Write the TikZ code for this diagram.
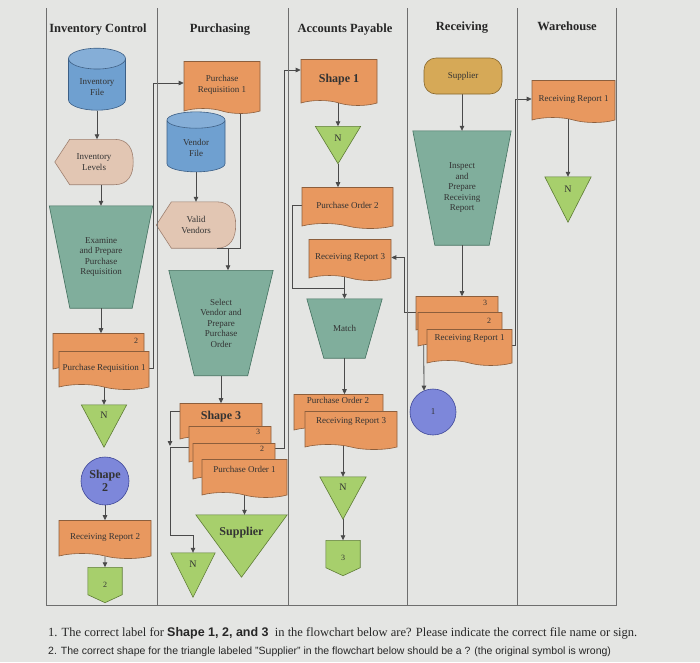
\documentclass[tikz,border=0pt]{standalone}
\usepackage{fontspec}
\setmainfont{Liberation Serif}
\setsansfont{Liberation Sans}
\usepackage{tikz}
\usetikzlibrary{positioning, arrows.meta, shapes.geometric, shapes.symbols, calc, backgrounds}

\definecolor{pagebg}{HTML}{E4E5E3}
\definecolor{lanegray}{HTML}{6E6E6E}
\definecolor{wiregray}{HTML}{4A4A4A}
\definecolor{docfill}{HTML}{E8985F}
\definecolor{docline}{HTML}{8C5E3C}
\definecolor{procfill}{HTML}{80AE9C}
\definecolor{procline}{HTML}{43705F}
\definecolor{trifill}{HTML}{A7CF6C}
\definecolor{triline}{HTML}{5E7C36}
\definecolor{filefill}{HTML}{6FA0D0}
\definecolor{fileline}{HTML}{3C5F86}
\definecolor{dispfill}{HTML}{E2C6B3}
\definecolor{displine}{HTML}{9E8070}
\definecolor{termfill}{HTML}{D6A957}
\definecolor{termline}{HTML}{86662C}
\definecolor{connfill}{HTML}{7D87DA}
\definecolor{connline}{HTML}{3F4898}

\begin{document}
\begin{tikzpicture}[
  x=1pt, y=1pt,
  font=\fontsize{9}{10.5}\selectfont,
  every node/.style={text=black!80},
  lane/.style={draw=lanegray, line width=0.8pt},
  head/.style={font=\fontsize{12.5}{15}\selectfont\bfseries, text=black!85},
  bigtxt/.style={font=\fontsize{12}{13}\selectfont\bfseries},
  numlbl/.style={font=\fontsize{8}{9}\selectfont, inner sep=0pt},
  doc/.style={tape, tape bend top=none, tape bend bottom=out and in,
              tape bend height=5pt, draw=docline, fill=docfill, line width=0.6pt,
              minimum width=#1, minimum height=38, inner sep=1pt, align=center},
  doc/.default=83,
  frontdoc/.style={text depth=14pt},
  filedb/.style={cylinder, shape border rotate=90, aspect=0.5, draw=fileline,
               cylinder uses custom fill, cylinder body fill=filefill,
               cylinder end fill=filefill!85!white, line width=0.6pt,
               minimum width=57, minimum height=62, align=center},
  proc/.style={rectangle, align=center,
    append after command={\pgfextra{\begin{pgfonlayer}{background}
      \filldraw[draw=procline, fill=procfill, line width=0.6pt]
        (\tikzlastnode.north west) -- (\tikzlastnode.north east)
        -- ($(\tikzlastnode.south east)+(-#1,0)$)
        -- ($(\tikzlastnode.south west)+(#1,0)$) -- cycle;
      \end{pgfonlayer}}}},
  term/.style={rectangle, rounded corners=12pt, draw=termline, fill=termfill,
               line width=0.6pt, minimum width=78, minimum height=36},
  conn/.style={circle, draw=connline, fill=connfill, line width=0.6pt, inner sep=0pt},
  disp/.style={rectangle, minimum width=79, minimum height=46, align=center,
    append after command={\pgfextra{\begin{pgfonlayer}{background}
      \filldraw[draw=displine, fill=dispfill, line width=0.6pt]
        (\tikzlastnode.west)
        -- ($(\tikzlastnode.north west)!0.19!(\tikzlastnode.north east)$)
        -- ($(\tikzlastnode.north west)!0.76!(\tikzlastnode.north east)$)
        .. controls ($(\tikzlastnode.north east)+(-5,0)$)
                and ($(\tikzlastnode.east)+(0,13)$) .. (\tikzlastnode.east)
        .. controls ($(\tikzlastnode.east)+(0,-13)$)
                and ($(\tikzlastnode.south east)+(-5,0)$)
        .. ($(\tikzlastnode.south west)!0.76!(\tikzlastnode.south east)$)
        -- ($(\tikzlastnode.south west)!0.19!(\tikzlastnode.south east)$)
        -- cycle;
      \end{pgfonlayer}}}},
  tri/.style={rectangle, inner sep=0pt, text height=7pt, text depth=#1,
    font=\fontsize{10}{11}\selectfont,
    append after command={\pgfextra{\begin{pgfonlayer}{background}
      \filldraw[draw=triline, fill=trifill, line width=0.6pt]
        (\tikzlastnode.north west) -- (\tikzlastnode.north east)
        -- (\tikzlastnode.south) -- cycle;
      \end{pgfonlayer}}}},
  tri/.default=22pt,
  offp/.style={rectangle, inner sep=0pt, minimum width=34, minimum height=35,
    font=\fontsize{8}{9}\selectfont,
    append after command={\pgfextra{\begin{pgfonlayer}{background}
      \filldraw[draw=triline, fill=trifill, line width=0.6pt]
        (\tikzlastnode.north west) -- (\tikzlastnode.north east)
        -- ($(\tikzlastnode.south east)+(0,8)$) -- (\tikzlastnode.south)
        -- ($(\tikzlastnode.south west)+(0,8)$) -- cycle;
      \end{pgfonlayer}}}},
  wire/.style={draw=wiregray, line width=0.8pt},
  arr/.style={wire, -{Triangle[length=5pt, width=4.5pt]}}
]
\begin{scope}[on background layer]
  \fill[pagebg] (0,0) rectangle (700,-662);
\end{scope}
\useasboundingbox (0,0) rectangle (700,-662);

% swim lanes
\draw[lane] (46,-8) -- (46,-605) -- (616,-605) -- (616,-8);
\foreach \lx in {157, 288, 407, 517}
  \draw[lane] (\lx,-8) -- (\lx,-605);

\node[head] (hic)  at (98,-30)  {Inventory Control};
\node[head] (hpur) at (220,-30) {Purchasing};
\node[head] (hap)  at (345,-30) {Accounts Payable};
\node[head] (hrec) at (462,-28) {Receiving};
\node[head] (hwh)  at (567,-26) {Warehouse};

% inventory control
\node[filedb] (invfile) at (97,-87) {Inventory\\File};
\node[disp, minimum width=78, minimum height=45] (invlev) at (94,-162) {Inventory\\Levels};
\node[proc=20.5, minimum width=103, minimum height=102] (exam) at (101,-257)
  {Examine\\and Prepare\\Purchase\\Requisition};
\node[doc=91] (prtwo) at (98.5,-350) {};
\node[numlbl] (prtwo-n) at (136,-341) {2};
\node[doc=90] (prone) at (104,-368) {Purchase Requisition 1};
\node[tri, minimum width=45, minimum height=42] (icn) at (104,-426) {N};
\node[conn, minimum size=48, bigtxt, align=center] (shptwo) at (105,-481) {Shape\\2};
\node[doc=92] (rrtwo) at (105,-537) {Receiving Report 2};
\node[offp] (offtwo) at (105,-585) {2};

% purchasing
\node[doc=76, minimum height=52] (prq) at (222,-85) {Purchase\\Requisition 1};
\node[filedb, minimum width=58, minimum height=60] (vfile) at (196,-148) {Vendor\\File};
\node[disp] (vvend) at (196,-225) {Valid\\Vendors};
\node[proc=25.5, minimum width=104, minimum height=105] (selv) at (221,-323)
  {Select\\Vendor and\\Prepare\\Purchase\\Order};
\node[doc=82, bigtxt, text depth=10pt] (shpthree) at (221,-420) {Shape 3};
\node[doc=82] (pothree) at (230,-443) {};
\node[numlbl] (pothree-n) at (258,-432) {3};
\node[doc=82] (potwoc) at (234,-460) {};
\node[numlbl] (potwoc-n) at (262,-449) {2};
\node[doc=85, frontdoc] (poone) at (244.5,-476) {Purchase Order 1};
\node[tri=29pt, text height=8.5pt, bigtxt, minimum width=91, minimum height=62] (supp) at (241.5,-546) {Supplier};
\node[tri, minimum width=44, minimum height=44] (pun) at (193,-575) {N};

% accounts payable
\node[doc=76, minimum height=46, bigtxt] (shpone) at (339,-80) {Shape 1};
\node[tri=14pt, minimum width=45, minimum height=37] (apnone) at (338,-145) {N};
\node[doc=91, minimum height=41] (potwo) at (347.5,-205.5) {Purchase Order 2};
\node[doc=82, minimum height=41] (rrthree) at (350,-257.5) {Receiving Report 3};
\node[proc=17, minimum width=75, minimum height=59] (match) at (344.5,-328.5) {Match};
\node[doc=89] (potwob) at (338.5,-411) {};
\node (potwob-t) at (338,-400) {Purchase Order 2};
\node[doc=92, frontdoc] (rrthreeb) at (351,-428) {Receiving Report 3};
\node[tri, minimum width=46, minimum height=42] (apntwo) at (343,-498) {N};
\node[offp] (offthree) at (343,-558) {3};

% receiving
\node[term] (supt) at (463,-76) {Supplier};
\node[proc=22, minimum width=98, minimum height=114] (insp) at (462,-188)
  {Inspect\\and\\Prepare\\Receiving\\Report};
\node[doc=82, minimum height=36] (rrdthree) at (457,-312) {};
\node[numlbl] (rrdthree-n) at (485,-303) {3};
\node[doc=84, minimum height=36] (rrdtwo) at (460,-328) {};
\node[numlbl] (rrdtwo-n) at (489,-321) {2};
\node[doc=85, minimum height=36, frontdoc] (rrone) at (469.5,-345) {Receiving Report 1};
\node[conn, minimum size=46] (cone) at (433,-412) {1};

% warehouse
\node[doc=83, minimum height=42] (rrw) at (573.5,-99) {Receiving Report 1};
\node[tri, minimum width=46, minimum height=45] (whn) at (568,-199.5) {N};

% flows
\begin{scope}[on background layer]
\draw[arr] (invfile.south) -- (invfile.south |- invlev.north);
\draw[arr] (invlev.south -| exam.north) -- (exam.north);
\draw[arr] (exam.south) -- (exam.south |- prtwo.north);
\draw[arr] (prone.south) -- (icn.north);
\draw[arr] (prone.east) -- ++(4,0) |- ([yshift=2pt]prq.west);
\draw[arr] (shptwo) -- (rrtwo);
\draw[arr] (rrtwo) -- (offtwo);

\draw[arr] (vfile) -- (vvend);
\draw[wire] ([xshift=18pt]prq.south) |- ($(vvend.south west)!0.76!(vvend.south east)$);
\draw[arr] ([xshift=7pt]selv.north |- vvend.south) -- ([xshift=7pt]selv.north);
\draw[arr] (selv.south) -- (selv.south |- shpthree.north);
\draw[arr] ([yshift=9pt]shpthree.west) -| (170,-446);
\draw[arr] ([yshift=-4pt]pothree.west) -| (170,-535) -| (pun.north);
\draw[arr] ([yshift=12pt]potwoc.east) -- ++(9,0) |- ([yshift=10pt]shpone.west);
\draw[arr] (poone.south) -- (poone.south |- supp.north);

\draw[arr] (shpone.south -| apnone.north) -- (apnone.north);
\draw[arr] (apnone.south) -- (apnone.south |- potwo.north);
\draw[wire] (potwo.west) -- ++(-9,0) |- ([yshift=10pt]match.north);
\draw[arr] (match.north |- rrthree.south) -- (match.north);
\draw[arr] (match.south) -- (match.south |- potwob.north);
\draw[arr] (apntwo.north |- rrthreeb.south) -- (apntwo.north);
\draw[arr] (apntwo) -- (offthree);

\draw[arr] (supt.south -| insp.north) -- (insp.north);
\draw[arr] (insp.south) -- (insp.south |- rrdthree.north);
\draw[arr] (rrdthree.west) -- ++(-11,0) |- (rrthree.east);
\draw[arr] ([xshift=6pt]rrdtwo.south west) -- ([xshift=-9pt,yshift=-2pt]cone.north);
\draw[arr] (rrone.east) -- ++(3,0) |- (rrw.west);
\draw[arr] (rrw.south -| whn.north) -- (whn.north);
\end{scope}

% question text
\node[anchor=base west, inner sep=0pt, font=\fontsize{12.5}{14}\selectfont, text=black!85] (qone) at (48,-636)
  {1. The correct label for {\sffamily\bfseries Shape 1, 2, and 3}\ \ in the flowchart below are? Please indicate the correct file name or sign.};
\node[anchor=base west, inner sep=0pt, font=\sffamily\fontsize{10.5}{12}\selectfont, text=black!85] (qtwo) at (48,-654)
  {2. The correct shape for the triangle labeled "Supplier" in the flowchart below should be a ? (the original symbol is wrong)};
\end{tikzpicture}
\end{document}
